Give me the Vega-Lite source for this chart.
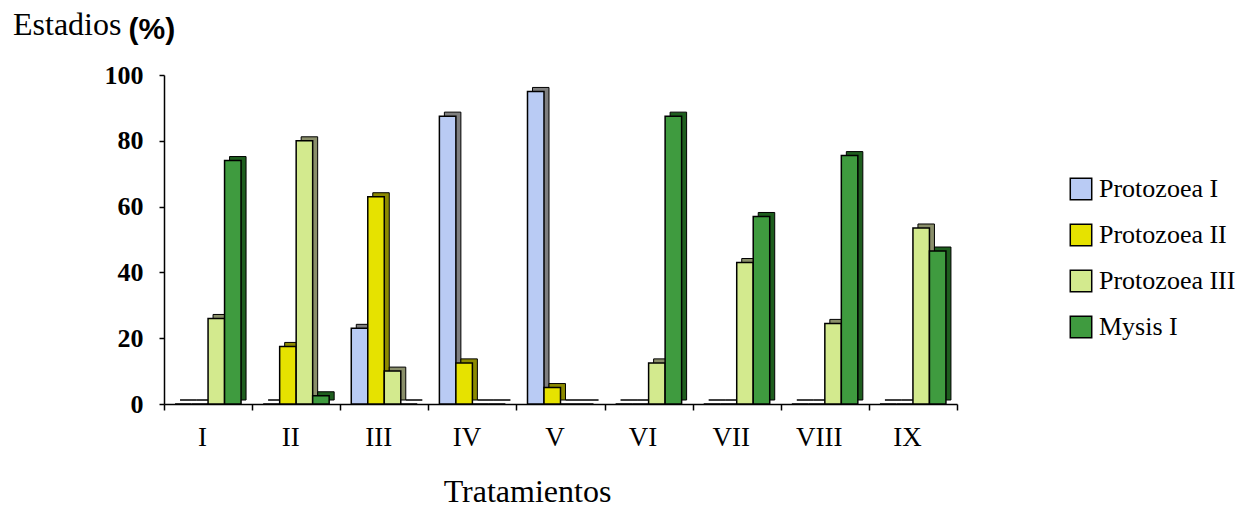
{
  "$schema": "https://vega.github.io/schema/vega-lite/v6.json",
  "autosize": "none",
  "width": 793,
  "height": 329,
  "padding": {"left": 164, "top": 75, "right": 283, "bottom": 104},
  "background": "white",
  "title": {
    "text": "Estadios",
    "anchor": "start",
    "frame": "group",
    "orient": "top",
    "font": "Liberation Serif",
    "fontSize": 32,
    "fontWeight": "normal",
    "color": "black",
    "baseline": "alphabetic",
    "offset": 0,
    "dx": -151,
    "dy": 53
  },
  "data": {
    "values": [
      {"trat": "I", "estadio": "Protozoea I", "pct": 0},
      {"trat": "I", "estadio": "Protozoea II", "pct": 0},
      {"trat": "I", "estadio": "Protozoea III", "pct": 26},
      {"trat": "I", "estadio": "Mysis I", "pct": 74},
      {"trat": "II", "estadio": "Protozoea I", "pct": 0},
      {"trat": "II", "estadio": "Protozoea II", "pct": 17.5},
      {"trat": "II", "estadio": "Protozoea III", "pct": 80},
      {"trat": "II", "estadio": "Mysis I", "pct": 2.5},
      {"trat": "III", "estadio": "Protozoea I", "pct": 23},
      {"trat": "III", "estadio": "Protozoea II", "pct": 63},
      {"trat": "III", "estadio": "Protozoea III", "pct": 10},
      {"trat": "III", "estadio": "Mysis I", "pct": 0},
      {"trat": "IV", "estadio": "Protozoea I", "pct": 87.5},
      {"trat": "IV", "estadio": "Protozoea II", "pct": 12.5},
      {"trat": "IV", "estadio": "Protozoea III", "pct": 0},
      {"trat": "IV", "estadio": "Mysis I", "pct": 0},
      {"trat": "V", "estadio": "Protozoea I", "pct": 95},
      {"trat": "V", "estadio": "Protozoea II", "pct": 5},
      {"trat": "V", "estadio": "Protozoea III", "pct": 0},
      {"trat": "V", "estadio": "Mysis I", "pct": 0},
      {"trat": "VI", "estadio": "Protozoea I", "pct": 0},
      {"trat": "VI", "estadio": "Protozoea II", "pct": 0},
      {"trat": "VI", "estadio": "Protozoea III", "pct": 12.5},
      {"trat": "VI", "estadio": "Mysis I", "pct": 87.5},
      {"trat": "VII", "estadio": "Protozoea I", "pct": 0},
      {"trat": "VII", "estadio": "Protozoea II", "pct": 0},
      {"trat": "VII", "estadio": "Protozoea III", "pct": 43},
      {"trat": "VII", "estadio": "Mysis I", "pct": 57},
      {"trat": "VIII", "estadio": "Protozoea I", "pct": 0},
      {"trat": "VIII", "estadio": "Protozoea II", "pct": 0},
      {"trat": "VIII", "estadio": "Protozoea III", "pct": 24.5},
      {"trat": "VIII", "estadio": "Mysis I", "pct": 75.5},
      {"trat": "IX", "estadio": "Protozoea I", "pct": 0},
      {"trat": "IX", "estadio": "Protozoea II", "pct": 0},
      {"trat": "IX", "estadio": "Protozoea III", "pct": 53.5},
      {"trat": "IX", "estadio": "Mysis I", "pct": 46.5}
    ]
  },
  "encoding": {
    "x": {
      "field": "trat",
      "type": "nominal",
      "sort": ["I", "II", "III", "IV", "V", "VI", "VII", "VIII", "IX"],
      "scale": {"paddingInner": 0, "paddingOuter": 0},
      "axis": {
        "title": "Tratamientos",
        "titleFont": "Liberation Serif",
        "titleFontSize": 32,
        "titleFontWeight": "normal",
        "titleColor": "black",
        "titleAlign": "center",
        "titleBaseline": "alphabetic",
        "titleAnchor": null,
        "titleX": 363,
        "titleY": 97,
        "labelAngle": 0,
        "labelFont": "Liberation Serif",
        "labelFontSize": 27,
        "labelColor": "black",
        "labelBaseline": "alphabetic",
        "labelPadding": 35,
        "labelOffset": -6,
        "tickBand": "extent",
        "tickSize": 6,
        "tickColor": "black",
        "tickWidth": 1.5,
        "domainColor": "black",
        "domainWidth": 1.5,
        "grid": false
      }
    },
    "y": {
      "field": "pct",
      "type": "quantitative",
      "scale": {"domain": [0, 100], "nice": false},
      "axis": {
        "values": [0, 20, 40, 60, 80, 100],
        "title": "(%)",
        "titleAngle": 0,
        "titleX": -36,
        "titleY": -37,
        "titleAlign": "left",
        "titleBaseline": "alphabetic",
        "titleFont": "Liberation Sans",
        "titleFontSize": 30,
        "titleFontWeight": "bold",
        "titleColor": "black",
        "labelFont": "Liberation Serif",
        "labelFontSize": 26,
        "labelFontWeight": "bold",
        "labelColor": "black",
        "labelPadding": 16,
        "tickSize": 5,
        "tickColor": "black",
        "tickWidth": 1.5,
        "domainColor": "black",
        "domainWidth": 1.5,
        "grid": false
      }
    }
  },
  "layer": [
    {
      "mark": {"type": "bar", "yOffset": -4, "stroke": "black", "strokeWidth": 1},
      "encoding": {
        "xOffset": {
          "field": "estadio",
          "type": "nominal",
          "sort": ["Protozoea I", "Protozoea II", "Protozoea III", "Mysis I"],
          "scale": {"paddingInner": 0, "paddingOuter": 0.67, "range": [5, 93.11]}
        },
        "color": {
          "field": "estadio",
          "type": "nominal",
          "scale": {
            "domain": ["Protozoea I", "Protozoea II", "Protozoea III", "Mysis I"],
            "range": ["#7f7f7f", "#8c8a00", "#8a8f6a", "#1e5e1e"]
          },
          "legend": null
        }
      }
    },
    {
      "mark": {"type": "bar", "stroke": "black", "strokeWidth": 1.5},
      "encoding": {
        "xOffset": {
          "field": "estadio",
          "type": "nominal",
          "sort": ["Protozoea I", "Protozoea II", "Protozoea III", "Mysis I"],
          "scale": {"paddingInner": 0, "paddingOuter": 0.67, "range": [0, 88.11]}
        },
        "color": {
          "field": "estadio",
          "type": "nominal",
          "scale": {
            "domain": ["Protozoea I", "Protozoea II", "Protozoea III", "Mysis I"],
            "range": ["#b9cbf4", "#e6e200", "#d3ea8e", "#3f9b3f"]
          },
          "legend": {
            "title": null,
            "orient": "none",
            "legendX": 904,
            "legendY": 101,
            "padding": 0,
            "symbolType": "square",
            "symbolSize": 460,
            "symbolStrokeColor": "black",
            "symbolStrokeWidth": 1.5,
            "symbolOpacity": 1,
            "labelFont": "Liberation Serif",
            "labelFontSize": 26,
            "labelColor": "black",
            "labelOffset": 5,
            "rowPadding": 18,
            "labelLimit": 300
          }
        }
      }
    }
  ],
  "resolve": {"scale": {"color": "independent", "xOffset": "independent"}},
  "config": {
    "view": {"stroke": null},
    "font": "Liberation Serif"
  }
}
